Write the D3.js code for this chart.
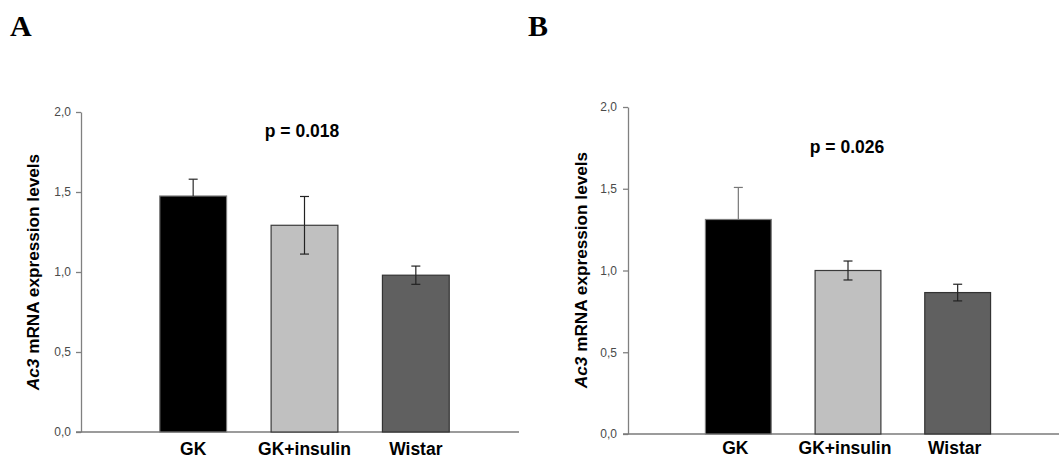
<!DOCTYPE html>
<html>
<head>
<meta charset="utf-8">
<script src="https://cdn.jsdelivr.net/npm/d3@7"></script>
<style>
  body { margin: 0; background: #fff; }
  svg { display: block; font-family: "Liberation Sans", Arial, sans-serif; }
</style>
</head>
<body>
<div id="chart"></div>
<script>
// data
var categories = ["GK", "GK+insulin", "Wistar"];
var valuesA = [1.475, 1.292, 0.980];
var errorsA = [0.105, 0.180, 0.057];
var valuesB = [1.312, 1.000, 0.865];
var errorsB = [0.196, 0.058, 0.051];
var yTicks = [0, 0.5, 1.0, 1.5, 2.0];
var fills = ["#000000", "#c0c0c0", "#606060"];
var strokes = ["#7a7a7a", "#3a3a3a", "#333333"];

var svgWidth = 1059;
var svgHeight = 459;

var svg = d3.select("#chart")
  .append("svg")
  .attr("width", svgWidth)
  .attr("height", svgHeight);

function drawPanel(opt) {
  var g = svg.append("g");

  var y = d3.scaleLinear()
    .domain([0, 2])
    .range([opt.bottom, opt.top]);

  var x = d3.scaleBand()
    .domain(categories)
    .range(opt.band)
    .paddingInner(0.4)
    .paddingOuter(0.2);

  var cx = function(i) { return x(categories[i]) + 0.5 + x.bandwidth() / 2; };

  // y axis
  var yAxis = g.append("g")
    .attr("transform", "translate(" + opt.left + ",0)")
    .call(d3.axisLeft(y)
      .tickValues(yTicks)
      .tickSize(5)
      .tickSizeOuter(0)
      .tickPadding(opt.tickPad)
      .tickFormat(function(d) { return d3.format(".1f")(d).replace(".", ","); }));
  yAxis.select(".domain").attr("stroke", "#808080").attr("stroke-width", 1.3);
  yAxis.selectAll(".tick line").attr("stroke", "#808080").attr("stroke-width", 1.3);
  yAxis.selectAll(".tick text")
    .attr("fill", "#4a4a4a")
    .style("font-size", "12px")
    .style("font-family", "'Liberation Sans', Arial, sans-serif");

  // baseline
  g.append("line")
    .attr("x1", opt.left - 5)
    .attr("x2", opt.right)
    .attr("y1", y(0))
    .attr("y2", y(0))
    .attr("stroke", "#7a7a7a")
    .attr("stroke-width", 1.6);

  // bars
  g.selectAll(".bar")
    .data(opt.values)
    .enter()
    .append("rect")
    .attr("x", function(d, i) { return x(categories[i]) + 0.5; })
    .attr("y", function(d) { return y(d); })
    .attr("width", x.bandwidth())
    .attr("height", function(d) { return y(0) - y(d); })
    .attr("fill", function(d, i) { return fills[i]; })
    .attr("stroke", function(d, i) { return strokes[i]; })
    .attr("stroke-width", 1.2);

  // error bars: upper half for every bar, lower half where it shows
  var eb = g.selectAll(".err")
    .data(opt.values)
    .enter()
    .append("g")
    .attr("stroke", function(d, i) { return i === 0 ? opt.gkErr : "#222"; })
    .attr("stroke-width", 1.2);
  eb.append("line")
    .attr("x1", function(d, i) { return cx(i); })
    .attr("x2", function(d, i) { return cx(i); })
    .attr("y1", function(d) { return y(d); })
    .attr("y2", function(d, i) { return y(d + opt.errors[i]); });
  eb.append("line")
    .attr("x1", function(d, i) { return cx(i) - 4.5; })
    .attr("x2", function(d, i) { return cx(i) + 4.5; })
    .attr("y1", function(d, i) { return y(d + opt.errors[i]); })
    .attr("y2", function(d, i) { return y(d + opt.errors[i]); });
  eb.each(function(d, i) {
    if (i === 0) return;
    var e = d3.select(this);
    e.append("line")
      .attr("x1", cx(i)).attr("x2", cx(i))
      .attr("y1", y(d)).attr("y2", y(d - opt.errors[i]));
    e.append("line")
      .attr("x1", cx(i) - 4.5).attr("x2", cx(i) + 4.5)
      .attr("y1", y(d - opt.errors[i])).attr("y2", y(d - opt.errors[i]));
  });

  // category labels
  g.selectAll(".cat")
    .data(categories)
    .enter()
    .append("text")
    .attr("x", function(d, i) { return cx(i) + opt.labelShift; })
    .attr("y", y(0) + opt.labelGap)
    .attr("text-anchor", "middle")
    .style("font-size", "17.5px")
    .style("font-weight", "bold")
    .text(function(d) { return d; });

  // p value
  g.append("text")
    .attr("x", opt.pX)
    .attr("y", opt.pY)
    .attr("text-anchor", "middle")
    .style("font-size", "17.5px")
    .style("font-weight", "bold")
    .text(opt.p);

  // y label
  var yl = g.append("text")
    .attr("transform", "translate(" + opt.labelX + "," + opt.labelY + ") rotate(-90)")
    .attr("text-anchor", "middle")
    .style("font-size", "17.2px")
    .style("font-weight", "bold");
  yl.append("tspan").style("font-style", "italic").text("Ac3");
  yl.append("tspan").text(" mRNA expression levels");

  // panel letter
  svg.append("text")
    .attr("x", opt.letterX)
    .attr("y", 35.5)
    .style("font-family", "'Liberation Serif', 'Times New Roman', serif")
    .style("font-size", "30px")
    .style("font-weight", "bold")
    .text(opt.letter);
}

drawPanel({
  letter: "A", letterX: 10,
  values: valuesA, errors: errorsA,
  left: 81, right: 519, top: 112, bottom: 432,
  band: [137, 471], tickPad: 5, labelShift: 0, labelGap: 23,
  gkErr: "#2a2a2a",
  p: "p = 0.018", pX: 302, pY: 136.5,
  labelX: 39, labelY: 272
});

drawPanel({
  letter: "B", letterX: 528,
  values: valuesB, errors: errorsB,
  left: 628, right: 1059, top: 107, bottom: 434,
  band: [683, 1012], tickPad: 6, labelShift: -3, labelGap: 20,
  gkErr: "#777777",
  p: "p = 0.026", pX: 847, pY: 152.5,
  labelX: 587, labelY: 270
});
</script>
</body>
</html>
